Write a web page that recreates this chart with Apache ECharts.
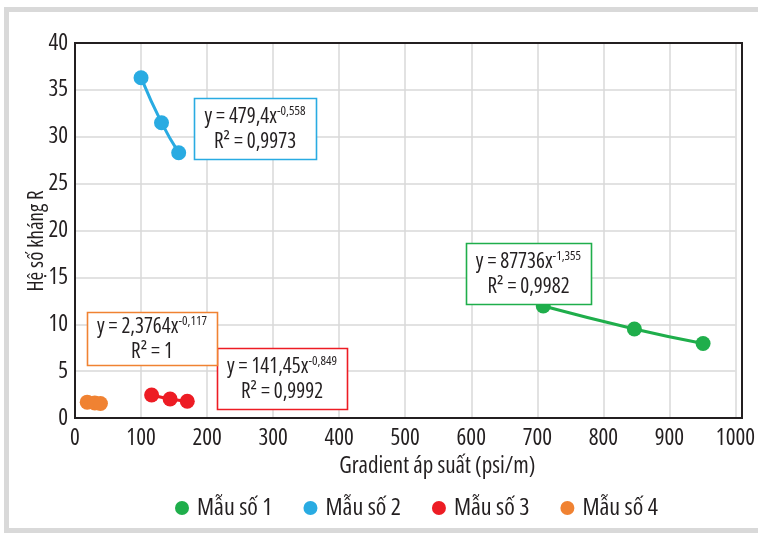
<!DOCTYPE html>
<html><head><meta charset="utf-8">
<script src="https://cdn.jsdelivr.net/npm/echarts@6/dist/echarts.min.js"></script>
<style>html,body{margin:0;padding:0;background:#fff}#c{width:758px;height:533px}</style>
</head><body><div id="c"></div>
<script>
const seriesNames = ['Mẫu số 1', 'Mẫu số 2', 'Mẫu số 3', 'Mẫu số 4'];
const colors = ['#1fae4b', '#29abe2', '#ed1c24', '#f08232'];
const s1x = [709, 847, 951];
const s1y = [11.95, 9.5, 7.95];
const s2x = [100, 131, 157];
const s2y = [36.3, 31.5, 28.3];
const s3x = [116, 144, 170];
const s3y = [2.45, 2.03, 1.78];
const s4x = [18.5, 30, 38.5];
const s4y = [1.69, 1.6, 1.55];
const eqCoef = ['87736', '479,4', '141,45', '2,3764'];
const eqExp = ['-1,355', '-0,558', '-0,849', '-0,117'];
const eqR2 = ['0,9982', '0,9973', '0,9992', '1'];
const xName = 'Gradient áp suất (psi/m)';
const yName = 'Hệ số kháng R';

const FONT = "'Open Sans'";
const FW = 'condensed';
const TXT = '#231f20';

function pairs(xs, ys){ return xs.map((x,i)=>[x, ys[i]]); }
const allX = [s1x, s2x, s3x, s4x], allY = [s1y, s2y, s3y, s4y];

const chart = echarts.init(document.getElementById('c'), null, {renderer:'canvas'});

const boxes = [[466, 243, 125, 61], [194, 98, 122, 61], [217, 348, 130, 61], [87, 312, 130, 53]];
const graphics = [{
  type:'rect', shape:{x:6.5, y:9.5, width:770, height:521}, style:{fill:'none', stroke:'#d9d9d9', lineWidth:5}, z:-1
},{
  type:'rect', shape:{x:75, y:43, width:667, height:375}, style:{fill:'none', stroke:'#231f20', lineWidth:2}, z:50
},{
  type:'text', x:37, y:241, rotation:Math.PI/2, z:60,
  style:{text:yName, align:'center', verticalAlign:'middle', fill:TXT,
    font:'normal condensed 21px ' + FONT}
}];
boxes.forEach((b,i)=>{
  graphics.push({type:'rect', shape:{x:b[0]+0.5, y:b[1]+0.5, width:b[2], height:b[3]},
    style:{fill:'#fff', stroke:colors[i], lineWidth:1.6}, z:100});
  graphics.push({type:'text', x:b[0]+b[2]/2, y:b[1]+b[3]/2+1, z:101,
    style:{text:'{n|y = '+eqCoef[i]+'x}{s|'+eqExp[i]+'}\n{n|R² = '+eqR2[i]+'}',
      align:'center', verticalAlign:'middle', fill:TXT,
      rich:{n:{fontFamily:FONT, fontWeight:FW, fontSize:21, lineHeight:25, fill:TXT},
            s:{fontFamily:FONT, fontWeight:FW, fontSize:13, lineHeight:25, verticalAlign:'top', fill:TXT, padding:[0,0,11,0]}}}});
});

chart.setOption({
  animation:false,
  color: colors,
  textStyle:{fontFamily:FONT, color:TXT},
  grid:{left:75, right:16, top:43, bottom:115, show:false},
  legend:{data:seriesNames, left:170, top:491, icon:'circle', itemWidth:14, itemHeight:14, itemGap:31,
    textStyle:{fontFamily:FONT, fontWeight:FW, fontSize:24, color:TXT, padding:[0,0,0,3]}},
  xAxis:{type:'value', min:0, max:1000, interval:100, name:xName, nameLocation:'middle', nameGap:36,
    nameTextStyle:{fontFamily:FONT, fontWeight:FW, fontSize:23, color:TXT, padding:[0,0,0,64]},
    axisLine:{show:true, lineStyle:{color:'#231f20', width:2}}, axisTick:{show:false},
    axisLabel:{fontFamily:FONT, fontWeight:FW, fontSize:23, color:TXT, margin:9, formatter:v=>String(v)},
    splitLine:{show:true, lineStyle:{color:'#d9d9d9', width:1.5}}},
  yAxis:{type:'value', min:0, max:40, interval:5,
    axisLine:{show:true, lineStyle:{color:'#231f20', width:2}}, axisTick:{show:false},
    axisLabel:{fontFamily:FONT, fontWeight:FW, fontSize:23, color:TXT, margin:7},
    splitLine:{show:true, lineStyle:{color:'#d9d9d9', width:1.5}}},
  series: seriesNames.map((n,i)=>({
    name:n, type:'line', data:pairs(allX[i], allY[i]), smooth:true, symbol:'circle', symbolSize:15,
    lineStyle:{width:3, color:colors[i]}, itemStyle:{color:colors[i]}, z:5
  })),
  graphic: graphics
});
</script></body></html>
